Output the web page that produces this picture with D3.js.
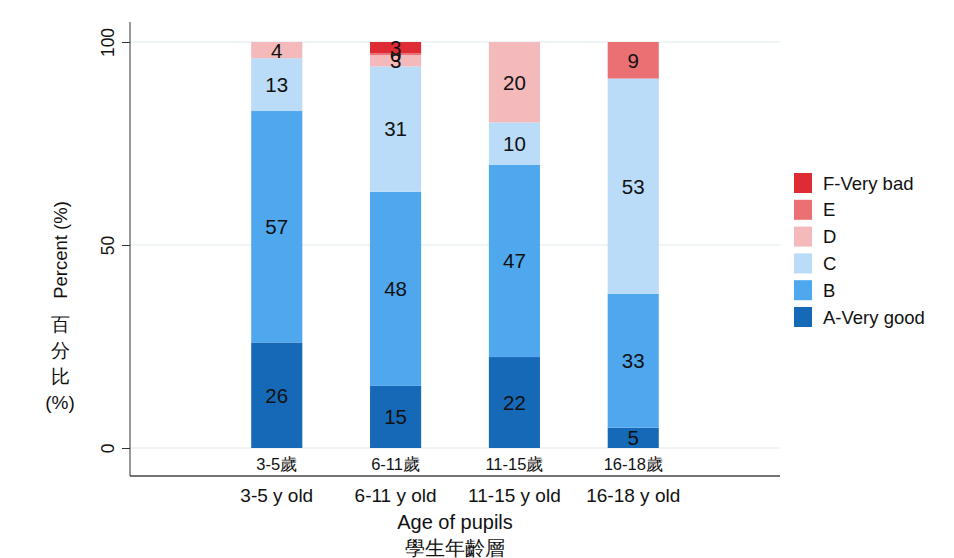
<!DOCTYPE html>
<html>
<head>
<meta charset="utf-8">
<script src="https://cdn.jsdelivr.net/npm/d3@7"></script>
<style>
  body { margin: 0; background: #fff; }
  text { font-family: "Liberation Sans", Arial, sans-serif; fill: #111; }
</style>
</head>
<body>
<script>
/*categories and series*/
const ages = ['3-5 y old', '6-11 y old', '11-15 y old', '16-18 y old'];
const agesZh = ['3-5歲', '6-11歲', '11-15歲', '16-18歲'];
const grades = ['A-Very good', 'B', 'C', 'D', 'E', 'F-Very bad'];
const gradeA = [26, 15.3, 22.4, 5];
const gradeB = [57, 47.8, 47.4, 33];
const gradeC = [13, 30.9, 10.4, 53];
const gradeD = [4, 2.8, 19.8, 0];
const gradeE = [0, 0.4, 0, 9];
const gradeF = [0, 2.8, 0, 0];
const yTicks = [0, 50, 100];
const colors = ['#1669b6', '#4fa7ed', '#badcf8', '#f3b9bb', '#ea7074', '#df2b33'];

const series = [gradeA, gradeB, gradeC, gradeD, gradeE, gradeF];
const table = ages.map((a, i) => {
  const row = { age: a };
  grades.forEach((g, j) => row[g] = series[j][i]);
  return row;
});

/*canvas size*/
const width = 954;
const height = 558;
const plot = { left: 130, right: 780, top: 42, bottom: 448, frame: 476 };
const cjk = '"Noto Sans CJK TC", sans-serif';

const svg = d3.select('body').append('svg')
    .attr('width', width)
    .attr('height', height);

/*scales*/
const xScale = d3.scaleBand()
    .domain(ages)
    .range([plot.left, plot.right])
    .paddingInner(0.57)
    .paddingOuter(1.02);
const yScale = d3.scaleLinear()
    .domain([0, 100])
    .range([plot.bottom, plot.top]);
const color = d3.scaleOrdinal().domain(grades).range(colors);

/*gridlines*/
svg.append('g').selectAll('line').data(yTicks).enter().append('line')
    .attr('x1', plot.left).attr('x2', plot.right)
    .attr('y1', d => yScale(d)).attr('y2', d => yScale(d))
    .attr('stroke', '#eaf1f3').attr('stroke-width', 1.5);

/*stacked bars*/
const stacked = d3.stack().keys(grades)(table);
const layers = svg.append('g').selectAll('g').data(stacked).enter().append('g')
    .attr('fill', d => color(d.key));
layers.selectAll('rect').data(d => d).enter().append('rect')
    .attr('x', d => xScale(d.data.age))
    .attr('width', xScale.bandwidth())
    .attr('y', d => yScale(d[1]))
    .attr('height', d => yScale(d[0]) - yScale(d[1]));

/*value labels (the 6-11 top labels overlap in the original too)*/
layers.selectAll('text').data(d => d.filter(s => s[1] - s[0] > 0)).enter().append('text')
    .attr('x', d => xScale(d.data.age) + xScale.bandwidth() / 2)
    .attr('y', d => yScale((d[0] + d[1]) / 2))
    .attr('dy', '0.36em')
    .attr('text-anchor', 'middle')
    .attr('font-size', 20.5)
    .text(d => Math.round(d[1] - d[0]));

/*y axis*/
const yAxis = svg.append('g')
    .attr('transform', `translate(${plot.left},0)`)
    .call(d3.axisLeft(yScale).tickValues(yTicks).tickSize(8).tickPadding(6));
yAxis.select('.domain').attr('d', `M0,${plot.top - 20}V${plot.frame}`).attr('stroke', '#333');
yAxis.selectAll('.tick line').attr('stroke', '#333');
yAxis.selectAll('.tick text')
    .attr('font-size', 17.5)
    .attr('font-family', '"Liberation Sans", Arial, sans-serif')
    .attr('fill', '#111')
    .attr('transform', 'rotate(-90)')
    .attr('x', 0).attr('y', -22)
    .attr('dy', '0.35em')
    .attr('text-anchor', 'middle');

/*x axis line*/
svg.append('line')
    .attr('x1', plot.left).attr('x2', plot.right)
    .attr('y1', plot.frame).attr('y2', plot.frame)
    .attr('stroke', '#444').attr('stroke-width', 1.5);

/*category labels*/
svg.append('g').selectAll('text').data(ages).enter().append('text')
    .attr('x', d => xScale(d) + xScale.bandwidth() / 2)
    .attr('y', 470)
    .attr('text-anchor', 'middle')
    .attr('font-size', 16.5)
    .text((d, i) => agesZh[i]);
svg.append('g').selectAll('text').data(ages).enter().append('text')
    .attr('x', d => xScale(d) + xScale.bandwidth() / 2)
    .attr('y', 502)
    .attr('text-anchor', 'middle')
    .attr('font-size', 19)
    .text(d => d);

/*axis titles*/
svg.append('text').attr('x', 455).attr('y', 529)
    .attr('text-anchor', 'middle').attr('font-size', 20).text('Age of pupils');
svg.append('text').attr('x', 455).attr('y', 555)
    .attr('text-anchor', 'middle').attr('font-size', 20)
    .attr('font-family', cjk).text('學生年齡層');

svg.append('text')
    .attr('transform', 'translate(67,250) rotate(-90)')
    .attr('text-anchor', 'middle').attr('font-size', 18.5).text('Percent (%)');
svg.append('g').selectAll('text').data(['百', '分', '比', '(%)']).enter().append('text')
    .attr('x', 60)
    .attr('y', (d, i) => 331 + i * 26)
    .attr('text-anchor', 'middle')
    .attr('font-size', 19)
    .attr('font-family', (d, i) => i < 3 ? cjk : '"Liberation Sans", Arial, sans-serif')
    .text(d => d);

/*legend*/
const legend = svg.append('g').selectAll('g').data(grades.slice().reverse()).enter().append('g')
    .attr('transform', (d, i) => `translate(794,${173 + i * 26.8})`);
legend.append('rect').attr('width', 18).attr('height', 20).attr('fill', d => color(d));
legend.append('text').attr('x', 29).attr('y', 10).attr('dy', '0.36em')
    .attr('font-size', 18.5).text(d => d);
</script>
</body>
</html>
